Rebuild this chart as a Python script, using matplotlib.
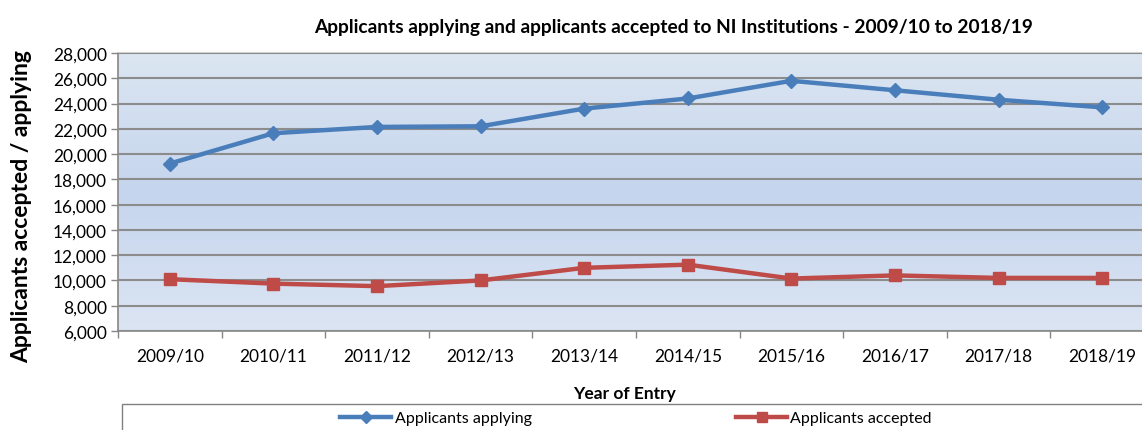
import numpy as np
import matplotlib
matplotlib.use("Agg")
import matplotlib.pyplot as plt
from matplotlib.patches import Rectangle
from matplotlib.lines import Line2D

plt.rcParams['font.family'] = ['Lato', 'DejaVu Sans']

# Data
years = ['2009/10', '2010/11', '2011/12', '2012/13', '2013/14',
         '2014/15', '2015/16', '2016/17', '2017/18', '2018/19']
applying = [19250, 21650, 22150, 22200, 23600, 24400, 25800, 25050, 24300, 23700]
accepted = [10100, 9750, 9550, 10000, 11000, 11250, 10150, 10400, 10200, 10200]

W, H = 1142, 431
fig = plt.figure(figsize=(W / 100, H / 100), dpi=100)
# plot area runs slightly past the right edge like in the original
ax = fig.add_axes([118 / W, 1 - 332 / H, (1154 - 118) / W, (332 - 54) / H])

# gradient background
top = np.array([220, 230, 242]) / 255
mid = np.array([197, 213, 237]) / 255
bot = np.array([220, 229, 243]) / 255
rows = np.linspace(0, 1, 200)
img = np.zeros((200, 1, 3))
for i, t in enumerate(rows):
    if t < 0.5:
        img[i, 0] = top + (mid - top) * (t / 0.5)
    else:
        img[i, 0] = mid + (bot - mid) * ((t - 0.5) / 0.5)
ax.imshow(img, extent=[-0.5, len(years) - 0.5, 6000, 28000], aspect='auto', zorder=0)

x = np.arange(len(years))
ax.plot(x, applying, color='#4a7ebb', lw=3.2, marker='D', ms=7, zorder=3)
ax.plot(x, accepted, color='#be4b48', lw=3.2, marker='s', ms=8, zorder=3)

ax.set_xlim(-0.5, len(years) - 0.5)
ax.set_ylim(6000, 28000)
ax.set_yticks(range(6000, 28001, 2000))
ax.set_yticklabels([f'{v:,}' for v in range(6000, 28001, 2000)], fontsize=12.5)
ax.set_xticks(x)
ax.set_xticklabels(years, fontsize=12.5)
ax.set_xticks(np.arange(-0.5, len(years), 1), minor=True)
ax.tick_params(axis='x', which='major', length=0, pad=12)
ax.tick_params(axis='x', which='minor', length=5, color='#868686', width=1)
ax.tick_params(axis='y', length=5, color='#868686', width=1, pad=3)
ax.yaxis.grid(True, color='#8c8c8c', lw=1.5, zorder=1)
ax.set_axisbelow(False)
for s in ['left', 'bottom']:
    ax.spines[s].set_color('#868686')
    ax.spines[s].set_linewidth(1.2)
ax.spines['top'].set_color('#d0d0d0')
ax.spines['top'].set_linewidth(1.5)
ax.spines['right'].set_visible(False)

fig.text(674 / W, 1 - 28 / H, 'Applicants applying and applicants accepted to NI Institutions - 2009/10 to 2018/19',
         ha='center', va='center', fontsize=13.8, fontweight='bold')
fig.text(22 / W, 1 - 207 / H, 'Applicants accepted / applying', rotation=90,
         ha='center', va='center', fontsize=16.5, fontweight='bold')
fig.text(624 / W, 1 - 394 / H, 'Year of Entry', ha='center', va='center',
         fontsize=12.5, fontweight='bold')

# legend box running off the bottom / right edge
fig.patches.append(Rectangle((122 / W, -0.05), 1.0, 0.05 + 1 - 405 / H,
                             transform=fig.transFigure, fill=False,
                             edgecolor='#808080', lw=1))
handles = [Line2D([], [], color='#4a7ebb', lw=3.2, marker='D', ms=6),
           Line2D([], [], color='#be4b48', lw=3.2, marker='s', ms=7)]
fig.legend(handles, ['Applicants applying', 'Applicants accepted'],
           loc='center', bbox_to_anchor=(636 / W, 1 - 419 / H), ncol=2,
           frameon=False, fontsize=11.5, handlelength=3.2, handletextpad=0.2,
           columnspacing=12.8)

fig.savefig('out.png', dpi=100)
